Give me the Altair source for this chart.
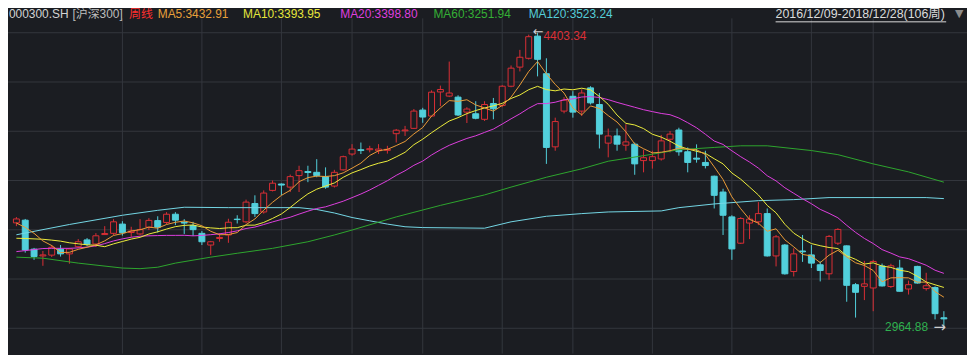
import altair as alt
import numpy as np
import pandas as pd

# ---------------- data (weekly candles, index 0 = 2016/12/09) ----------------
opens = [
    3478, 3491, 3350, 3317, 3321, 3350, 3327, 3362, 3395, 3375,
    3421, 3427, 3472, 3431, 3424, 3457, 3489, 3480, 3520, 3481,
    3465, 3427, 3370, 3402, 3419, 3496, 3483, 3572, 3531, 3636,
    3667, 3652, 3708, 3728, 3724, 3703, 3657, 3736, 3813, 3834,
    3834, 3829, 3831, 3912, 3926, 3938, 4027, 3998, 4115, 4095,
    4090, 4017, 4009, 3982, 4059, 4049, 4143, 4236, 4279, 4387,
    4204, 3848, 4022, 4094, 4022, 4135, 4054, 3866, 3901, 3856,
    3861, 3781, 3781, 3789, 3885, 3930, 3824, 3793, 3772, 3705,
    3628, 3507, 3379, 3477, 3483, 3523, 3317, 3370, 3241, 3341,
    3322, 3274, 3230, 3379, 3366, 3177, 3169, 3161, 3268, 3168,
    3258, 3156, 3266, 3158, 3163, 3016]
highs = [
    3506, 3497, 3356, 3341, 3370, 3370, 3356, 3399, 3404, 3428,
    3462, 3496, 3486, 3459, 3496, 3501, 3510, 3530, 3530, 3496,
    3483, 3438, 3390, 3428, 3498, 3515, 3591, 3612, 3636, 3684,
    3670, 3713, 3756, 3756, 3788, 3748, 3736, 3805, 3861, 3869,
    3853, 3861, 3853, 3935, 3950, 4032, 4038, 4123, 4146, 4263,
    4099, 4041, 4070, 4070, 4086, 4148, 4244, 4320, 4394, 4403.34,
    4279, 3990, 4090, 4119, 4128, 4143, 4110, 3937, 3937, 3958,
    3869, 3834, 3829, 3906, 3925, 3941, 3845, 3860, 3829, 3708,
    3644, 3515, 3506, 3515, 3579, 3548, 3419, 3375, 3354, 3419,
    3370, 3290, 3419, 3452, 3368, 3185, 3293, 3298, 3280, 3279,
    3298, 3197, 3269, 3235, 3169, 3048]
lows = [
    3462, 3333, 3298, 3269, 3312, 3314, 3279, 3356, 3366, 3361,
    3419, 3419, 3416, 3410, 3419, 3443, 3431, 3472, 3467, 3424,
    3414, 3370, 3322, 3386, 3381, 3475, 3477, 3507, 3523, 3631,
    3612, 3628, 3628, 3676, 3700, 3644, 3650, 3732, 3805, 3813,
    3821, 3813, 3815, 3869, 3901, 3935, 3965, 3993, 4046, 4090,
    3998, 3964, 3982, 3974, 3982, 4041, 4138, 4215, 4273, 4191,
    3765, 3829, 4011, 3990, 3998, 4054, 3840, 3797, 3829, 3829,
    3712, 3724, 3742, 3781, 3821, 3805, 3724, 3771, 3743, 3548,
    3419, 3298, 3375, 3399, 3467, 3314, 3266, 3226, 3217, 3288,
    3258, 3193, 3201, 3370, 3094, 3017, 3102, 3048, 3168, 3161,
    3144, 3129, 3182, 3148, 3008, 2964.88]
closes = [
    3497, 3346, 3314, 3322, 3359, 3327, 3351, 3386, 3374, 3415,
    3426, 3483, 3430, 3438, 3445, 3490, 3457, 3520, 3491, 3477,
    3445, 3386, 3386, 3407, 3481, 3494, 3579, 3523, 3623, 3671,
    3662, 3703, 3732, 3723, 3708, 3652, 3724, 3800, 3837, 3830,
    3839, 3837, 3836, 3929, 3930, 4022, 3993, 4114, 4127, 4110,
    4003, 4032, 3987, 4054, 4033, 4143, 4231, 4284, 4384, 4274,
    3845, 3971, 4075, 4017, 4110, 4062, 3910, 3901, 3861, 3872,
    3765, 3795, 3800, 3877, 3910, 3824, 3772, 3788, 3757, 3612,
    3515, 3351, 3499, 3496, 3523, 3317, 3410, 3230, 3327, 3337,
    3282, 3246, 3412, 3446, 3174, 3140, 3181, 3290, 3171, 3269,
    3145, 3177, 3185, 3172, 3036, 3010.65]

# moving-average lines (values per candle)
ma5 = [
    3477, 3456, 3427, 3390, 3367.6, 3333.6, 3334.6, 3349.0, 3359.4, 3370.6,
    3390.4, 3416.8, 3425.6, 3438.4, 3444.4, 3457.2, 3452.0, 3470.0, 3480.6, 3487.0,
    3478.0, 3463.8, 3437.0, 3420.2, 3421.0, 3430.8, 3469.4, 3496.8, 3540.0, 3578.0,
    3611.6, 3636.4, 3678.2, 3698.2, 3705.6, 3703.6, 3707.8, 3721.4, 3744.2, 3768.6,
    3806.0, 3828.6, 3835.8, 3854.2, 3874.2, 3910.8, 3942.0, 3997.6, 4037.2, 4073.2,
    4069.4, 4077.2, 4051.8, 4037.2, 4021.8, 4049.8, 4089.6, 4149.0, 4215.0, 4263.2,
    4203.6, 4151.6, 4109.8, 4036.4, 4003.6, 4047.0, 4034.8, 4000.0, 3968.8, 3921.2,
    3861.8, 3838.8, 3818.6, 3821.8, 3829.4, 3841.2, 3836.6, 3834.2, 3810.2, 3750.6,
    3688.8, 3604.6, 3546.8, 3494.6, 3476.8, 3437.2, 3449.0, 3395.2, 3361.4, 3324.2,
    3317.2, 3284.4, 3320.8, 3344.6, 3312.0, 3283.6, 3270.6, 3246.2, 3191.2, 3210.2,
    3211.2, 3210.4, 3189.4, 3189.6, 3143.0, 3116.2]
ma10 = [
    3403, 3402, 3400, 3398, 3394, 3389, 3381, 3376, 3371, 3369.1,
    3362.0, 3375.7, 3387.3, 3398.9, 3407.5, 3423.8, 3434.4, 3447.8, 3459.5, 3465.7,
    3467.6, 3457.9, 3453.5, 3450.4, 3454.0, 3454.4, 3466.6, 3466.9, 3480.1, 3499.5,
    3521.2, 3552.9, 3587.5, 3619.1, 3641.8, 3657.6, 3672.1, 3699.8, 3721.2, 3737.1,
    3754.8, 3768.2, 3778.6, 3799.2, 3821.4, 3858.4, 3885.3, 3916.7, 3945.7, 3973.7,
    3990.1, 4009.6, 4024.7, 4037.2, 4047.5, 4059.6, 4083.4, 4100.4, 4126.1, 4142.5,
    4126.7, 4120.6, 4129.4, 4125.7, 4133.4, 4125.3, 4093.2, 4054.9, 4002.6, 3962.4,
    3954.4, 3936.8, 3909.3, 3895.3, 3875.3, 3851.5, 3837.7, 3826.4, 3816.0, 3790.0,
    3765.0, 3720.6, 3690.5, 3652.4, 3613.7, 3563.0, 3526.8, 3471.0, 3428.0, 3400.5,
    3377.2, 3366.7, 3358.0, 3353.0, 3318.1, 3300.4, 3277.5, 3283.5, 3267.9, 3261.1,
    3247.4, 3240.5, 3217.8, 3190.4, 3176.6, 3163.7]
ma20 = [
    3338, 3343, 3348, 3353, 3354, 3354, 3354, 3356, 3360, 3366,
    3377, 3390, 3400, 3408, 3413, 3415, 3416, 3417, 3417, 3417.4,
    3414.8, 3416.8, 3420.4, 3424.7, 3430.8, 3439.1, 3450.5, 3457.4, 3469.8, 3482.6,
    3494.4, 3505.4, 3520.5, 3534.8, 3547.9, 3556.0, 3569.4, 3583.4, 3600.7, 3618.3,
    3638.0, 3660.6, 3683.1, 3709.2, 3731.6, 3758.0, 3778.7, 3808.3, 3833.5, 3855.4,
    3872.5, 3888.9, 3901.7, 3918.2, 3934.5, 3959.0, 3984.4, 4008.6, 4035.9, 4058.1,
    4058.4, 4065.1, 4077.1, 4081.5, 4090.5, 4092.5, 4088.3, 4077.7, 4064.4, 4052.5,
    4040.6, 4028.7, 4019.4, 4010.5, 4004.4, 3988.4, 3965.5, 3940.7, 3909.3, 3876.2,
    3859.7, 3828.7, 3799.9, 3773.9, 3744.5, 3707.3, 3682.3, 3648.7, 3622.0, 3595.3,
    3571.1, 3543.7, 3524.3, 3502.7, 3465.9, 3431.7, 3402.2, 3377.3, 3348.0, 3330.8,
    3312.3, 3303.6, 3287.9, 3271.7, 3247.4, 3232.1]
ma60_idx = [0, 3, 7, 12, 14, 16, 18, 22, 25, 29, 33, 36, 38, 43, 48, 53, 56, 60,
            64, 67, 71, 75, 79, 82, 85, 90, 93, 97, 101, 105]
ma60_val = [3311, 3306, 3282, 3258, 3255, 3262, 3282, 3311, 3330, 3354, 3386, 3419,
            3443, 3507, 3563, 3614, 3652, 3700, 3741, 3778, 3805, 3834, 3845, 3853,
            3853, 3830, 3810, 3765, 3726, 3676]
ma120_idx = [0, 6, 12, 16, 19, 24, 32, 34, 36, 38, 40, 42, 44, 46, 53, 56, 60, 64,
             67, 73, 75, 79, 84, 88, 92, 103, 105]
ma120_val = [3420, 3470, 3515, 3539, 3554, 3552, 3552, 3543, 3526, 3504, 3488, 3472,
             3459, 3455, 3452, 3483, 3510, 3523, 3531, 3536, 3552, 3570, 3586, 3591,
             3601, 3601, 3596]

month_ticks = [12, 21, 30, 38, 46, 55, 63, 72, 81, 90, 97]

header_text = ["000300.SH", "[沪深300]", "周线", "MA5:3432.91", "MA10:3393.95",
               "MA20:3398.80", "MA60:3251.94", "MA120:3523.24"]
header_x = [1, 65, 122, 151, 237, 335, 429, 525]
header_color = ["#d4d4d4", "#bdbdbd", "#ff2f2f", "#e8a03a", "#e6e63c",
                "#df3fdf", "#35b035", "#55cdd8"]
range_text = "2016/12/09-2018/12/28(106周)"

# ---------------- styling / layout ----------------
W, H = 967, 347
BG = "#1b1d22"
GRID = "#34373e"
RED = "#dc2f36"
CYAN = "#52d0dc"
FONT = "Liberation Sans, Arial, Noto Sans CJK SC, sans-serif"
STEP = 9.0     # px per candle
X0 = 3.5       # px of first candle
TOP = 23.5     # px of highest price
SPAN = 298.0   # px between highest and lowest price

n = len(closes)
df = pd.DataFrame({"i": np.arange(n), "open": opens, "high": highs,
                   "low": lows, "close": closes})
df["dir"] = np.where(df["close"] >= df["open"], "up", "down")
df["top"] = df[["open", "close"]].max(axis=1)
df["bot"] = df[["open", "close"]].min(axis=1)

lo, hi = min(lows), max(highs)
unit = (hi - lo) / SPAN
xs = alt.Scale(domain=[-X0 / STEP, (W - X0) / STEP], nice=False, zero=False)
ys = alt.Scale(domain=[hi - (H - TOP) * unit, hi + TOP * unit], nice=False, zero=False)


def X():
    return alt.X("i:Q", scale=xs, axis=None)


def Y(f):
    return alt.Y(f"{f}:Q", scale=ys, axis=None)


hgrid = alt.Chart(pd.DataFrame({"v": np.linspace(lo, hi, 7)})).mark_rule(
    color=GRID, strokeWidth=1).encode(y=Y("v"), x=alt.value(0), x2=alt.value(W))
vgrid = alt.Chart(pd.DataFrame({"i": month_ticks})).mark_rule(
    color=GRID, strokeWidth=1).encode(x=X(), y=alt.value(9), y2=alt.value(H))

col_scale = alt.Scale(domain=["up", "down"], range=[RED, CYAN])
fill_scale = alt.Scale(domain=["up", "down"], range=[BG, CYAN])

wicks = alt.Chart(df).mark_rule(strokeWidth=1).encode(
    x=X(), y=Y("low"), y2=alt.Y2("high"),
    color=alt.Color("dir:N", scale=col_scale, legend=None))
bodies = alt.Chart(df).mark_bar(size=6, strokeWidth=1).encode(
    x=X(), y=Y("bot"), y2=alt.Y2("top"),
    fill=alt.Fill("dir:N", scale=fill_scale, legend=None),
    stroke=alt.Stroke("dir:N", scale=col_scale, legend=None))


def ma_layer(idx, vals, color):
    d = pd.DataFrame({"i": idx, "v": vals})
    return alt.Chart(d).mark_line(color=color, strokeWidth=1).encode(x=X(), y=Y("v"))


l120 = ma_layer(ma120_idx, ma120_val, "#74d8e6")
l60 = ma_layer(ma60_idx, ma60_val, "#2ea62e")
l20 = ma_layer(list(range(n)), ma20, "#df3fdf")
l10 = ma_layer(list(range(n)), ma10, "#eeee3c")
l5 = ma_layer(list(range(n)), ma5, "#eb9c38")

imax = int(np.argmax(highs))
imin = int(np.argmin(lows))
peak = pd.DataFrame({"i": [imax], "v": [hi], "t": [f"{hi:.2f}"]})
trough = pd.DataFrame({"i": [imin], "v": [lo], "t": [f"{lo:.2f}"]})

peak_arrow = alt.Chart(peak).mark_text(
    text="←", align="right", baseline="middle", dx=6, dy=-1,
    color="#cfcfcf", fontSize=13, font="DejaVu Sans").encode(x=X(), y=Y("v"))
peak_txt = alt.Chart(peak).mark_text(
    align="left", baseline="top", dx=6, dy=-2, color=RED, fontSize=12,
    font=FONT).encode(x=X(), y=Y("v"), text="t:N")
low_arrow = alt.Chart(trough).mark_text(
    text="→", align="right", baseline="middle", dx=2, dy=-1,
    color="#cfcfcf", fontSize=15, font="DejaVu Sans").encode(x=X(), y=Y("v"))
low_txt = alt.Chart(trough).mark_text(
    align="right", baseline="middle", dx=-16, dy=-1, color="#2fb14f",
    fontSize=12, font=FONT).encode(x=X(), y=Y("v"), text="t:N")

header_layers = []
for t, px, c in zip(header_text, header_x, header_color):
    header_layers.append(
        alt.Chart(pd.DataFrame({"t": [t]})).mark_text(
            align="left", baseline="middle", fontSize=12, font=FONT, color=c
        ).encode(x=alt.value(px), y=alt.value(5), text="t:N"))

date_txt = alt.Chart(pd.DataFrame({"t": [range_text]})).mark_text(
    align="left", baseline="middle", fontSize=12.5, font=FONT, color="#dcdcdc"
).encode(x=alt.value(774), y=alt.value(5), text="t:N")
underline = alt.Chart(pd.DataFrame({"a": [0]})).mark_rule(
    color="#dcdcdc", strokeWidth=1).encode(x=alt.value(774), x2=alt.value(946),
                                           y=alt.value(12.5))
tri = alt.Chart(pd.DataFrame({"t": ["▼"]})).mark_text(
    align="center", baseline="middle", fontSize=11, font="DejaVu Sans",
    color="#8c8c8c").encode(x=alt.value(959), y=alt.value(5), text="t:N")

chart = alt.layer(
    hgrid, vgrid, wicks, bodies, l120, l60, l20, l10, l5,
    peak_arrow, peak_txt, low_arrow, low_txt, *header_layers,
    date_txt, underline, tri
).properties(
    width=W, height=H, background=BG, padding=0,
    autosize=alt.AutoSizeParams(type="none")
).configure_view(stroke="transparent")

chart.save("out.html", embed_options={"renderer": "svg", "actions": False})
